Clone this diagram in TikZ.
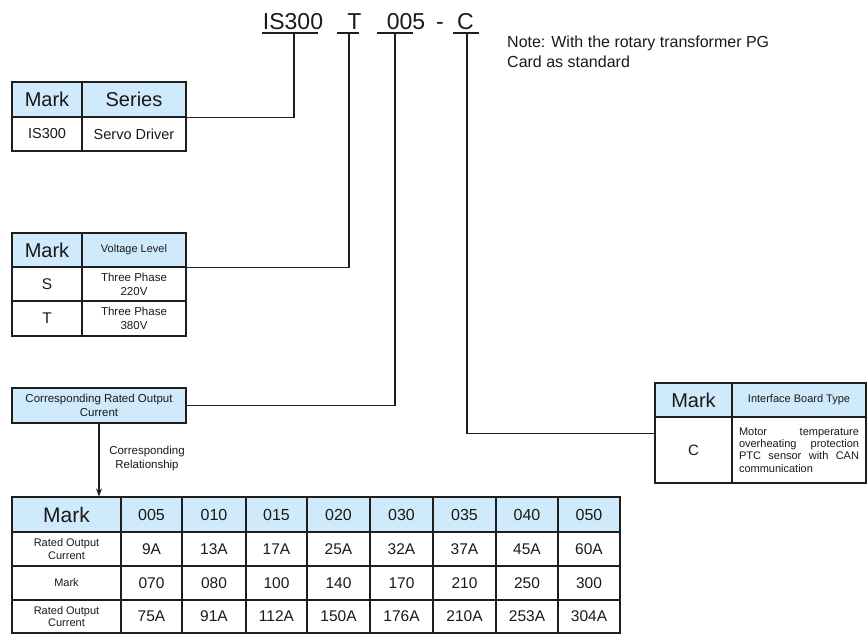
\documentclass[tikz,border=0pt]{standalone}
\usepackage{fontspec}
\setmainfont{Liberation Sans}
\usetikzlibrary{arrows.meta,calc}
\definecolor{headblue}{RGB}{207,234,250}
\definecolor{lineclr}{RGB}{30,30,30}
\newcommand\fsz[2]{\fontsize{#1}{#2}\selectfont}
\begin{document}
\begin{tikzpicture}[x=1pt,y=-1pt,
  cell/.style={draw=lineclr, line width=1.1pt, inner sep=0pt, align=center, anchor=center, text=black!90},
  hcell/.style={cell, fill=headblue},
  conn/.style={draw=lineclr, line width=1.1pt},
  title/.style={font=\fsz{23}{26}, inner sep=0pt, anchor=base, text=black!90},
  small/.style={font=\fsz{11}{12.5}},
  lbl/.style={inner sep=0pt, align=center, text=black!90}
]
\useasboundingbox (0,0) rectangle (868,634);

% title code
\node[title] (t1) at (293,30) {IS300};
\node[title] (t2) at (354.5,30) {T};
\node[title] (t3) at (406,30) {005};
\node[title] (t4) at (440,30) {-};
\node[title] (t5) at (465.5,30) {C};
\coordinate (u1l) at (262,33); \coordinate (u1r) at (318,33); \coordinate (u1) at (294,33);
\coordinate (u2l) at (337,33); \coordinate (u2r) at (359,33); \coordinate (u2) at (349,33);
\coordinate (u3l) at (377,33); \coordinate (u3r) at (413,33); \coordinate (u3) at (395,33);
\coordinate (u4l) at (453,33); \coordinate (u4r) at (479,33); \coordinate (u4) at (467,33);
\draw[conn] (u1l) -- (u1r);
\draw[conn] (u2l) -- (u2r);
\draw[conn] (u3l) -- (u3r);
\draw[conn] (u4l) -- (u4r);

% note
\node[lbl, anchor=north west, align=left, font=\fsz{16}{20}] (note) at (507,36)
  {Note: With the rotary transformer PG\\Card as standard};

% series table
\node[hcell, minimum width=70pt, minimum height=35pt, font=\fsz{20}{24}] (s11) at (47,99.5) {Mark};
\node[hcell, minimum width=104pt, minimum height=35pt, font=\fsz{20}{24}] (s12) at (134,99.5) {Series};
\node[cell, minimum width=70pt, minimum height=34pt, font=\fsz{14.5}{17}] (s21) at (47,134) {IS300};
\node[cell, minimum width=104pt, minimum height=34pt, font=\fsz{14.5}{17}] (s22) at (134,134) {Servo Driver};

% voltage table
\node[hcell, minimum width=70pt, minimum height=34pt, font=\fsz{20}{24}] (v11) at (47,250) {Mark};
\node[hcell, minimum width=104pt, minimum height=34pt, small] (v12) at (134,250) {Voltage Level};
\node[cell, minimum width=70pt, minimum height=34pt, font=\fsz{15.5}{18}] (v21) at (47,284) {S};
\node[cell, minimum width=104pt, minimum height=34pt, font=\fsz{11.5}{14}] (v22) at (134,284) {Three Phase\\220V};
\node[cell, minimum width=70pt, minimum height=35pt, font=\fsz{15.5}{18}] (v31) at (47,318.5) {T};
\node[cell, minimum width=104pt, minimum height=35pt, font=\fsz{11.5}{14}] (v32) at (134,318.5) {Three Phase\\380V};

% rated output current box
\node[hcell, minimum width=174pt, minimum height=35pt, font=\fsz{11.5}{14}] (r) at (99,405.5)
  {Corresponding Rated Output\\Current};

% interface table
\node[hcell, minimum width=77pt, minimum height=34pt, font=\fsz{20}{24}] (i11) at (693.5,400) {Mark};
\node[hcell, minimum width=134pt, minimum height=34pt, small] (i12) at (799,400) {Interface Board Type};
\node[cell, minimum width=77pt, minimum height=66pt, font=\fsz{15}{18}] (i21) at (693.5,450) {C};
\node[cell, minimum width=134pt, minimum height=66pt, text width=120pt, align=left, font=\fsz{11}{12.4}] (i22) at (799,450)
  {Motor\hfill temperature\\overheating\hfill protection\\PTC\hfill sensor\hfill with\hfill CAN\\communication};

% main table
\node[hcell, minimum width=109pt, minimum height=35pt, font=\fsz{21}{25}] (m10) at (66.5,514.5) {Mark};
\node[cell, minimum width=109pt, minimum height=34pt, small] (m20) at (66.5,549) {Rated Output\\Current};
\node[cell, minimum width=109pt, minimum height=34pt, small] (m30) at (66.5,583) {Mark};
\node[cell, minimum width=109pt, minimum height=33pt, small] (m40) at (66.5,616.5) {Rated Output\\Current};
\foreach \xl/\xr/\a/\b/\cc/\d [count=\i] in {121/182/005/9A/070/75A, 182/246/010/13A/080/91A,
  246/307/015/17A/100/112A, 307/370/020/25A/140/150A, 370/433/030/32A/170/176A,
  433/496/035/37A/210/210A, 496/558/040/45A/250/253A, 558/620/050/60A/300/304A}
{
  \pgfmathsetmacro\cx{(\xl+\xr)/2}
  \pgfmathsetmacro\w{\xr-\xl}
  \node[hcell, minimum width=\w pt, minimum height=35pt, font=\fsz{16}{19}] (m1\i) at (\cx,514.5) {\a};
  \node[cell, minimum width=\w pt, minimum height=34pt, font=\fsz{15.5}{18}] (m2\i) at (\cx,549) {\b};
  \node[cell, minimum width=\w pt, minimum height=34pt, font=\fsz{15.5}{18}] (m3\i) at (\cx,583) {\cc};
  \node[cell, minimum width=\w pt, minimum height=33pt, font=\fsz{15.5}{18}] (m4\i) at (\cx,616.5) {\d};
}

% connectors
\coordinate (cC) at ($(i21.north west)!0.25!(i21.south west)$);
\draw[conn] (u1) |- (s12.south east);
\draw[conn] (u2) |- (v12.south east);
\draw[conn] (u3) |- (r.east);
\draw[conn] (u4) |- (cC);
\draw[conn, -{Stealth[length=8pt,width=6pt]}] (r.south) -- (r.south |- m10.north);
\node[lbl, font=\fsz{11.5}{14}] (rel) at (147,459) {Corresponding\\Relationship};
\end{tikzpicture}
\end{document}
